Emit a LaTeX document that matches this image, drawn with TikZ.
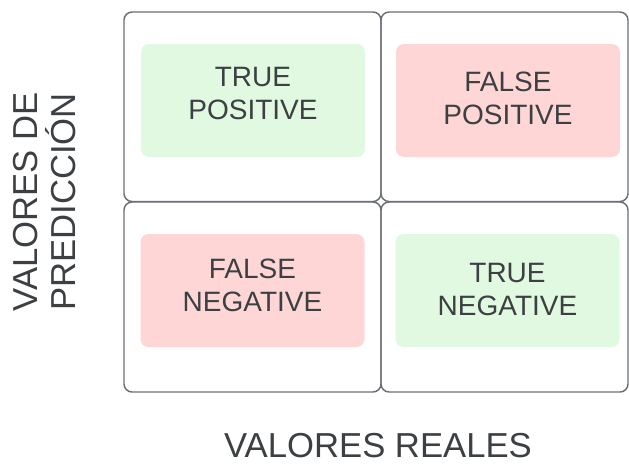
\documentclass[tikz,border=0pt]{standalone}
\usepackage{fontspec}
\setmainfont{Liberation Sans}
\usepackage{tikz}

\definecolor{cellline}{HTML}{6B6F75}
\definecolor{txtgray}{HTML}{3C4043}
\definecolor{okfill}{HTML}{E1F9E1}
\definecolor{badfill}{HTML}{FFD6D6}

\tikzset{
    cell/.style={draw=cellline, line width=1.1pt, rounded corners=6pt,
        inner sep=0pt, minimum width=#1},
    cell/.default={257*0.75pt},
    inbox/.style={rounded corners=6pt, inner sep=0pt,
        minimum width=224*0.75pt, minimum height=113*0.75pt},
    lbl/.style={text=txtgray, align=center, inner sep=0pt,
        font=\fontsize{21}{24.75}\selectfont},
    axlbl/.style={text=txtgray, align=center, inner sep=0pt,
        font=\fontsize{26}{28.5}\selectfont}
}

\begin{document}
\begin{tikzpicture}[x=0.75pt,y=-0.75pt]

\useasboundingbox (0,0) rectangle (629,465);

% Outer cells
\node[cell, minimum height=189.5*0.75pt] (tl) at (252.5,106.75) {};
\node[cell=247*0.75pt, minimum height=189.5*0.75pt] (tr) at (504.5,106.75) {};
\node[cell, minimum height=190*0.75pt] (bl) at (252.5,297) {};
\node[cell=247*0.75pt, minimum height=190*0.75pt] (br) at (504.5,297) {};

% Coloured boxes
\node[inbox, fill=okfill]  (tp) at (253,100.5) {};
\node[inbox, fill=badfill] (fp) at (508,100.5) {};
\node[inbox, fill=badfill] (fn) at (252.5,290.5) {};
\node[inbox, fill=okfill]  (tn) at (507.5,290.5) {};

% Labels
\node[lbl] (tptext) at (253,94) {TRUE\\POSITIVE};
\node[lbl] (fptext) at (508,98.5) {FALSE\\POSITIVE};
\node[lbl] (fntext) at (252.5,285) {FALSE\\NEGATIVE};
\node[lbl] (tntext) at (507.5,289.5) {TRUE\\NEGATIVE};

% Axis labels
\node[axlbl, rotate=90] (pred) at (45,202) {VALORES DE\\PREDICCIÓN};
\node[axlbl, text depth=0pt, anchor=base] (real) at (378,457) {VALORES REALES};

\end{tikzpicture}
\end{document}
